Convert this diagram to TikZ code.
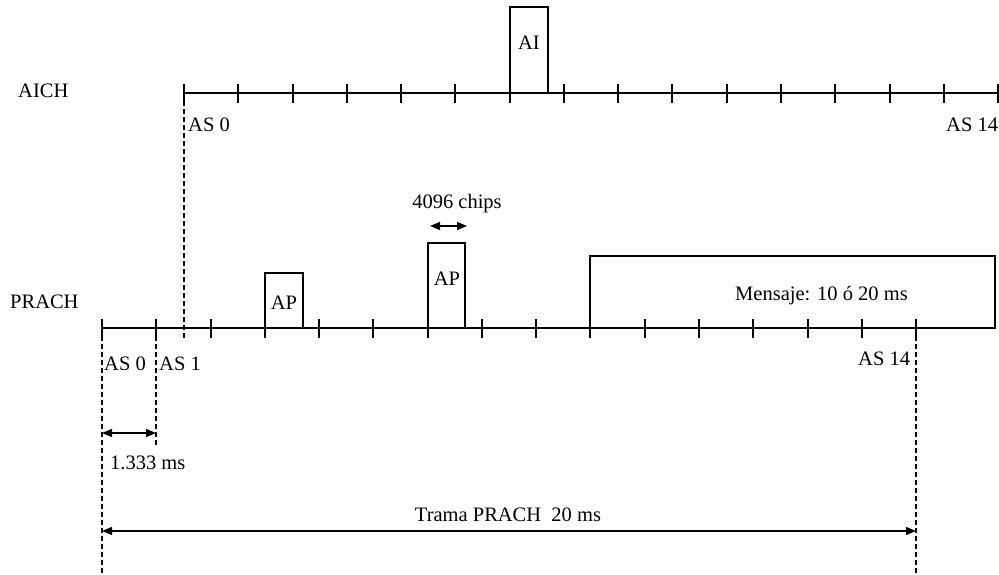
\documentclass[tikz,border=0pt]{standalone}
\usepackage{fontspec}
\setmainfont{Liberation Serif}
\usetikzlibrary{arrows.meta}
\begin{document}
\begin{tikzpicture}[x=1pt,y=-1pt,
  axis/.style={line width=1.3pt},
  tickmark/.style={line width=1.3pt},
  boxed/.style={line width=1.3pt},
  guide/.style={line width=1.3pt,dash pattern=on 5pt off 3pt},
  dim/.style={line width=1.3pt,{Triangle[length=10pt,width=8pt]}-{Triangle[length=10pt,width=8pt]}},
  lbl/.style={inner sep=0pt,font=\fontsize{20.5}{24}\selectfont},
]
\useasboundingbox (0,0) rectangle (999,574);

% ---------- AICH ----------
\coordinate (aichS) at (184,93);
\coordinate (aichE) at (998,93);
\draw[axis] (aichS) -- (aichE);
\foreach \k in {0,...,15} {
  \pgfmathsetmacro{\tx}{round(184+54.27*\k)}
  \draw[tickmark] (\tx,84) -- ++(0,19);
}
\draw[boxed] (510,93) rectangle (548,7);
\node[lbl,anchor=base] (ai) at (529,49) {AI};
\node[lbl,anchor=base west] (aich) at (18,97) {AICH};
\node[lbl,anchor=base west] (aas0) at (188,131) {AS 0};
\node[lbl,anchor=base west] (aas14) at (946,131) {AS 14};

% ---------- PRACH ----------
\coordinate (prS) at (102,328);
\coordinate (prE) at (995,328);
\draw[axis] (prS) -- (prE);
\foreach \k in {0,...,15} {
  \pgfmathsetmacro{\tx}{round(102+54.27*\k)}
  \draw[tickmark] (\tx,319) -- ++(0,19);
}
\draw[boxed] (265,328) rectangle (303,273);
\draw[boxed] (428,328) rectangle (465,243);
\draw[boxed] (590,328) rectangle (995,256);
\node[lbl,anchor=base west] (prach) at (10,308) {PRACH};
\node[lbl,anchor=base] (ap1) at (284,309) {AP};
\node[lbl,anchor=base] (ap2) at (447,285) {AP};
\node[lbl,anchor=base west] (msg) at (735,300) {Mensaje: 10 ó 20 ms};
\node[lbl,anchor=base west] (pas0) at (104,370) {AS 0};
\node[lbl,anchor=base west] (pas1) at (159,370) {AS 1};
\node[lbl,anchor=base west] (pas14) at (858,365) {AS 14};

% chips dimension
\node[lbl,anchor=base] (chips) at (457,208) {4096 chips};
\coordinate (chL) at (430,226);
\coordinate (chR) at (467,226);
\draw[dim] (chL) -- (chR);

% ---------- dashed guides ----------
\coordinate (g1a) at (184,93);  \coordinate (g1b) at (184,340);
\coordinate (g2a) at (102,328); \coordinate (g2b) at (102,574);
\coordinate (g3a) at (156,328); \coordinate (g3b) at (156,447);
\coordinate (g4a) at (916,328); \coordinate (g4b) at (916,574);
\draw[guide] (g1a) -- (g1b);
\draw[guide] (g2a) -- (g2b);
\draw[guide] (g3a) -- (g3b);
\draw[guide] (g4a) -- (g4b);

% ---------- dimensions ----------
\coordinate (d1L) at (102,433);
\coordinate (d1R) at (156,433);
\draw[dim] (d1L) -- (d1R);
\node[lbl,anchor=base west] (slot) at (110,469) {1.333 ms};

\coordinate (d2L) at (102,531);
\coordinate (d2R) at (916,531);
\draw[dim] (d2L) -- (d2R);
\node[lbl,anchor=base] (trama) at (508,521) {Trama PRACH\ \ 20 ms};
\end{tikzpicture}
\end{document}
